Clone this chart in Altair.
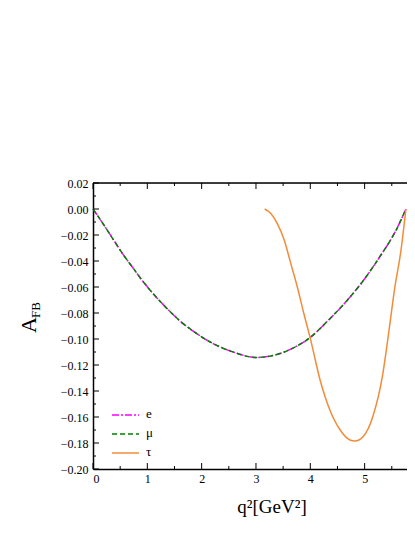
import altair as alt
import pandas as pd

# ---- data ----
q2_light = [0.0, 0.18, 0.36, 0.54, 0.72, 0.90, 1.085, 1.27, 1.45, 1.63, 1.87, 2.21, 2.58,
            3.0, 3.36, 3.67, 3.97, 4.37, 4.67, 4.98, 5.28, 5.58, 5.76]
afb_e = [0.0, -0.0110, -0.0226, -0.0341, -0.0444, -0.0546, -0.0641, -0.0726, -0.0802,
         -0.0872, -0.0947, -0.1035, -0.1100, -0.1142, -0.1122, -0.1072, -0.0997, -0.0840,
         -0.0707, -0.0548, -0.0367, -0.0162, 0.0]
afb_mu = [0.0, -0.0110, -0.0226, -0.0341, -0.0444, -0.0546, -0.0641, -0.0726, -0.0802,
          -0.0872, -0.0947, -0.1035, -0.1100, -0.1142, -0.1122, -0.1072, -0.0997, -0.0840,
          -0.0707, -0.0548, -0.0367, -0.0162, 0.0]
q2_tau = [3.16, 3.27, 3.39, 3.52, 3.64, 3.76, 3.88, 4.00, 4.18, 4.36, 4.55, 4.73, 4.82,
          4.97, 5.15, 5.33, 5.45, 5.55, 5.67, 5.76]
afb_tau = [0.0, -0.0033, -0.0110, -0.0238, -0.0418, -0.0598, -0.0802, -0.0995, -0.1315,
           -0.1546, -0.1700, -0.1777, -0.1785, -0.1752, -0.1598, -0.1280, -0.0930, -0.0620,
           -0.0315, 0.0]

series_names = ["e", "μ", "τ"]
series_colors = ["#FF00FF", "#008000", "#F28C38"]

x_major = [0, 1, 2, 3, 4, 5]
x_minor = [0.5, 1.5, 2.5, 3.5, 4.5, 5.5]
y_major = [0.02, 0.0, -0.02, -0.04, -0.06, -0.08, -0.10, -0.12, -0.14, -0.16, -0.18, -0.20]
y_minor = [0.01, -0.01, -0.03, -0.05, -0.07, -0.09, -0.11, -0.13, -0.15, -0.17, -0.19]

W, H = 314, 286
FONT = "Liberation Serif"

xs = alt.Scale(domain=[0, 5.78], nice=False, zero=False)
ys = alt.Scale(domain=[-0.20, 0.02], nice=False, zero=False)

df_e = pd.DataFrame({"q2": q2_light, "afb": afb_e})
df_mu = pd.DataFrame({"q2": q2_light, "afb": afb_mu})
df_tau = pd.DataFrame({"q2": q2_tau, "afb": afb_tau})

xaxis = alt.Axis(values=x_major, format="d", ticks=False, grid=False, domain=True,
                 domainColor="black", domainWidth=1.5, labelOverlap=False,
                 labelFont=FONT, labelFontSize=12, labelPadding=4, labelColor="black",
                 title=None)
yaxis = alt.Axis(values=y_major, format=".2f", ticks=False, grid=False, domain=True,
                 domainColor="black", domainWidth=1.5, labelOverlap=False,
                 labelFont=FONT, labelFontSize=12, labelPadding=5, labelColor="black",
                 title=None)


def curve(df, color, dash):
    mark = alt.Chart(df).mark_line(color=color, strokeWidth=1.5, interpolate="monotone",
                                   **({"strokeDash": dash} if dash else {}))
    return mark.encode(x=alt.X("q2:Q", scale=xs, axis=xaxis),
                       y=alt.Y("afb:Q", scale=ys, axis=yaxis))


line_e = curve(df_e, series_colors[0], [7, 2, 2, 2])
line_mu = curve(df_mu, series_colors[1], [5, 3])
line_tau = curve(df_tau, series_colors[2], None)


def yticks(vals, length):
    return alt.Chart(pd.DataFrame({"v": vals})).mark_rule(color="black", strokeWidth=1).encode(
        y=alt.Y("v:Q", scale=ys, axis=yaxis), x=alt.value(0), x2=alt.value(length))


def xticks(vals, y0, y1):
    return alt.Chart(pd.DataFrame({"v": vals})).mark_rule(color="black", strokeWidth=1).encode(
        x=alt.X("v:Q", scale=xs, axis=xaxis), y=alt.value(y0), y2=alt.value(y1))


ym = yticks(y_major, 6)
yn = yticks(y_minor, 3)
xmb = xticks(x_major, H, H - 6)
xnb = xticks(x_minor, H, H - 3)
xmt = xticks(x_major, 0, 6)
xnt = xticks(x_minor, 0, 3)
topline = alt.Chart(pd.DataFrame({"v": [0]})).mark_rule(color="black", strokeWidth=1.5).encode(
    x=alt.value(0), x2=alt.value(W), y=alt.value(0))

# legend (custom)
leg_layers = []
leg_dash = [[7, 2, 2, 2], [5, 3], None]
for i, (name, col, dash) in enumerate(zip(series_names, series_colors, leg_dash)):
    yy = 232 + i * 19
    kw = {"strokeDash": dash} if dash else {}
    leg_layers.append(
        alt.Chart(pd.DataFrame({"n": [name]})).mark_rule(color=col, strokeWidth=1.5, **kw).encode(
            x=alt.value(19), x2=alt.value(46), y=alt.value(yy)))
    leg_layers.append(
        alt.Chart(pd.DataFrame({"n": [name]})).mark_text(
            font=FONT, fontSize=13, align="left", baseline="middle", color="black").encode(
            x=alt.value(53), y=alt.value(yy - 1), text="n:N"))

# titles
xtitle = alt.Chart(pd.DataFrame({"t": ["q²[GeV²]"]})).mark_text(
    font=FONT, fontSize=19, align="center", baseline="alphabetic", color="black").encode(
    x=alt.value(179), y=alt.value(330), text="t:N")
ytitleA = alt.Chart(pd.DataFrame({"t": ["A"]})).mark_text(
    font=FONT, fontSize=22, align="center", baseline="alphabetic", angle=270, color="black").encode(
    x=alt.value(-57), y=alt.value(142), text="t:N")
ytitleFB = alt.Chart(pd.DataFrame({"t": ["FB"]})).mark_text(
    font=FONT, fontSize=13, align="center", baseline="alphabetic", angle=270, color="black").encode(
    x=alt.value(-53), y=alt.value(127), text="t:N")

chart = alt.layer(line_e, line_mu, line_tau, ym, yn, xmb, xnb, xmt, xnt, topline, *leg_layers,
                  xtitle, ytitleA, ytitleFB).properties(
    width=W, height=H,
    autosize=alt.AutoSizeParams(type="none"),
    padding={"left": 85, "top": 175, "right": 0, "bottom": 60},
).configure_view(stroke=None).configure(background="white")

chart.save("out.html", embed_options={"renderer": "svg", "actions": False})
